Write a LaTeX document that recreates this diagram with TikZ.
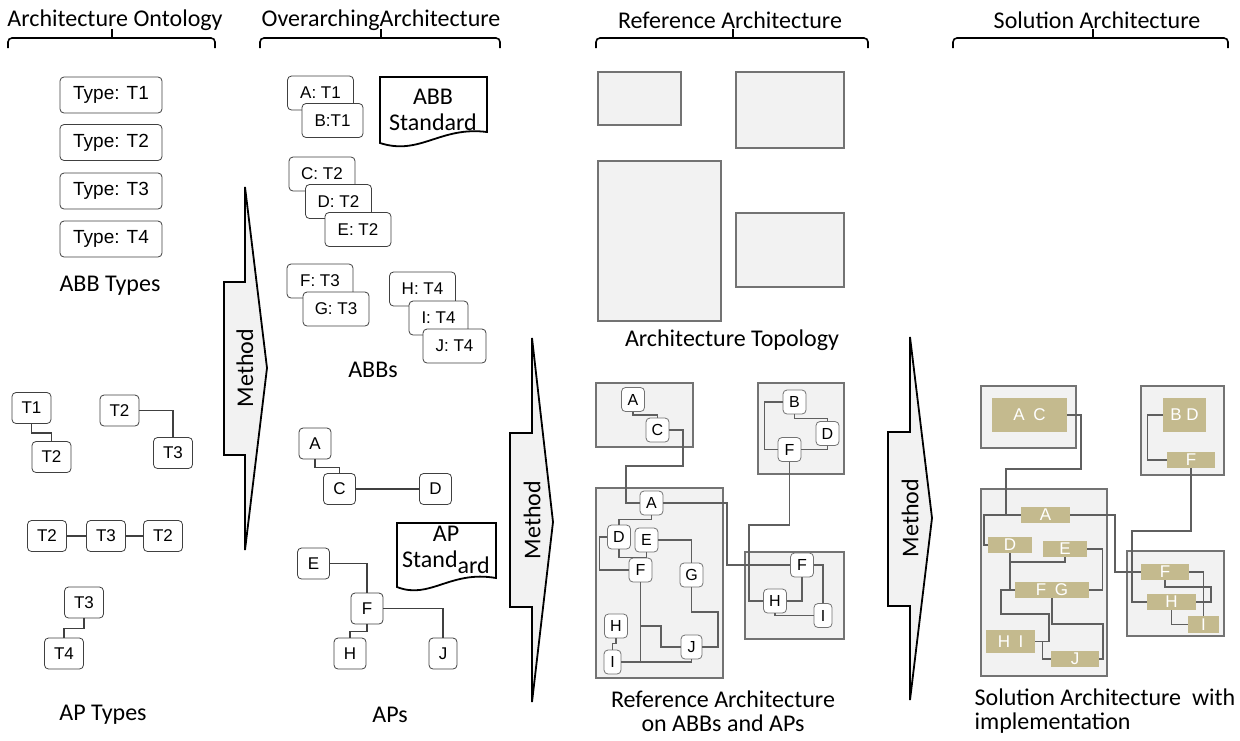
\documentclass[tikz,border=0pt]{standalone}
\usepackage{fontspec}
\setmainfont{Carlito}
\newfontfamily\arialfont{Liberation Sans}
\usepackage[dvipsnames]{xcolor}
\definecolor{tanbox}{RGB}{196,186,142}
\definecolor{areafill}{RGB}{242,242,242}
\definecolor{linegray}{RGB}{95,95,95}

\begin{document}
\begin{tikzpicture}[x=0.5pt,y=-0.5pt,
    label text/.style={font=\fontsize{12}{13}\selectfont,align=center},
    type node/.style={draw=black!75,rounded corners=2pt,fill=white,minimum width=51pt,minimum height=18pt,inner sep=0pt,font=\arialfont\fontsize{9.5}{11}\selectfont},
    abb node/.style={draw=black!75,rounded corners=2pt,fill=white,minimum width=33pt,minimum height=17pt,inner sep=0pt,font=\arialfont\fontsize{8.5}{10}\selectfont},
    tp node/.style={draw=black!75,rounded corners=2pt,fill=white,minimum width=19.5pt,minimum height=15.5pt,inner sep=0pt,font=\arialfont\fontsize{8.5}{10}\selectfont},
    ap node/.style={tp node,minimum width=16pt},
    ref node/.style={draw=black!55,rounded corners=2pt,fill=white,minimum width=11.5pt,minimum height=12pt,inner sep=0pt,font=\arialfont\fontsize{8}{9}\selectfont},
    impl node/.style={fill=tanbox,minimum height=8pt,inner sep=0pt,text=white,font=\arialfont\fontsize{8.5}{9}\selectfont},
    area box/.style={draw=black!55,fill=areafill,line width=0.6pt},
    wire/.style={draw=linegray,line width=0.6pt},
    dark wire/.style={draw=black!75,line width=0.6pt},
    doc line/.style={draw=black,line width=0.9pt},
    brace line/.style={line width=0.8pt,rounded corners=2pt},
    method arrow/.style={draw=black,fill=areafill,line width=0.9pt}]
            \useasboundingbox (0,0) rectangle (1240,740);

            \node[label text] (t1) at (115,20) {Architecture Ontology};
            \node[label text] (t2) at (381,20) {OverarchingArchitecture};
            \node[label text] (t3) at (730,20) {Reference Architecture};
            \node[label text] (t4) at (1097,20) {Solution Architecture};
            \foreach \l/\m/\r in {8/112/215,260/381/500,596/733/868,953/1093/1228}{
                \draw[brace line] (\l,48) |- (\r,38) -- (\r,48);
                \draw[brace line] (\m,38) -- (\m,29);
            }

            % ontology
            \foreach \i/\y in {1/95,2/142.5,3/191,4/239}
                \node[type node] (ty\i) at (111,\y) {Type: T\i};
            \node[label text] (abbtypes) at (110,286) {ABB Types};

            \node[tp node] (p1) at (31.5,408) {T1};
            \node[tp node] (p2) at (51.5,457) {T2};
            \node[tp node] (p3) at (119.5,410.5) {T2};
            \node[tp node] (p4) at (173,453) {T3};
            \node[tp node] (p5) at (47,536) {T2};
            \node[tp node] (p6) at (106,536) {T3};
            \node[tp node] (p7) at (163,536) {T2};
            \node[tp node] (p8) at (84,602.5) {T3};
            \node[tp node] (p9) at (64,653.5) {T4};
            \draw[dark wire] (p1.south) -- ++(0,9) -| (p2.north);
            \draw[dark wire] (p3.east) -| (p4.north);
            \draw[dark wire] (p5) -- (p6) -- (p7);
            \draw[dark wire] (p8.south) -- ++(0,10) -| (p9.north);
            \node[label text] (aptypes) at (103,715) {AP Types};

            \draw[method arrow] (245,187) -- (267,368) -- (245,550) -- (245,455) -- (224,455) -- (224,282) -- (245,282) -- cycle;
            \node[label text,rotate=90] (m1) at (245,368) {Method};

            % overarching
            \node[abb node] (a1) at (320.5,93) {A: T1};
            \node[abb node,minimum width=30.5pt] (b1) at (332.5,120.5) {B:T1};
            \node[abb node] (c1) at (322,174) {C: T2};
            \node[abb node] (d1) at (338.5,201.5) {D: T2};
            \node[abb node] (e1) at (358,229.5) {E: T2};
            \node[abb node] (f1) at (320,281) {F: T3};
            \node[abb node] (g1) at (336,309) {G: T3};
            \node[abb node] (h1) at (422.5,289) {H: T4};
            \node[abb node,minimum width=29.5pt] (i1) at (438.5,318) {I: T4};
            \node[abb node,minimum width=31.5pt] (j1) at (454.5,346) {J: T4};
            \draw[doc line] (380,143) -- (380,77) -- (487,77) -- (487,132) .. controls (440,126) and (420,156) .. cycle;
            \node[label text] (abbstd) at (433,110) {ABB\\Standard};
            \node[label text] (abbs) at (373,370) {ABBs};

            \node[ap node] (ea) at (315,443.5) {A};
            \node[ap node] (ec) at (339.5,489) {C};
            \node[ap node] (ed) at (435.5,489) {D};
            \node[ap node] (ee) at (313.5,563.5) {E};
            \node[ap node] (ef) at (367,608.5) {F};
            \node[ap node] (eh) at (350,653.5) {H};
            \node[ap node,minimum width=14pt] (ej) at (443,653.5) {J};
            \draw[dark wire] (ea.south) -- ++(0,8) -| (ec.north);
            \draw[dark wire] (ec) -- (ed);
            \draw[dark wire] (ee.east) -| (ef.north);
            \draw[dark wire] (ef.south) -- ++(0,7) -| (eh.north);
            \draw[dark wire] (ef.east) -| (ej.north);
            \draw[doc line] (397,587) -- (397,523) -- (496,523) -- (496,578) .. controls (450,570) and (430,600) .. cycle;
            \node[label text] (apstd) at (446,550) {AP\\Stand\raisebox{-0.5ex}{ard}};
            \node[label text] (aps) at (390,715) {APs};

            \draw[method arrow] (532,338) -- (553,522) -- (532,702) -- (532,607) -- (510,607) -- (510,433) -- (532,433) -- cycle;
            \node[label text,rotate=90] (m2) at (532,520) {Method};

            % reference architecture
            \draw[area box] (598,72) rectangle (681,125);
            \draw[area box] (736,72) rectangle (844,148);
            \draw[area box] (598,161) rectangle (721,321);
            \draw[area box] (736,213) rectangle (844,287);
            \node[label text] (topo) at (732,340) {Architecture Topology};

            \draw[area box] (596,383) rectangle (693,447);
            \draw[area box] (758,383) rectangle (844,474);
            \draw[area box] (596,488) rectangle (723,678);
            \draw[area box] (745,552) rectangle (844,639);
            \node[ref node] (ra1) at (633,399.5) {A};
            \node[ref node] (rc1) at (657.5,430) {C};
            \node[ref node] (rb1) at (794.5,402) {B};
            \node[ref node] (rd1) at (827.5,433.5) {D};
            \node[ref node] (rf1) at (789.5,449.5) {F};
            \node[ref node] (ra2) at (651.5,503) {A};
            \node[ref node] (rd2) at (619,537) {D};
            \node[ref node] (re2) at (646.5,540) {E};
            \node[ref node] (rf2) at (640.5,570) {F};
            \node[ref node] (rg2) at (691.5,575) {G};
            \node[ref node] (rh2) at (616,626) {H};
            \node[ref node,minimum width=8.5pt] (ri2) at (612.5,662) {I};
            \node[ref node,minimum width=10.5pt] (rj2) at (691.5,647) {J};
            \node[ref node] (rf3) at (802,565) {F};
            \node[ref node] (rh3) at (775,601) {H};
            \node[ref node,minimum width=9pt] (ri3) at (823,615.5) {I};
            \coordinate (rjn) at (640.5,626);
            \draw[wire] (ra1.south) -- ++(0,3) -| (rc1.north);
            \draw[wire] (rb1.south) -- ++(0,4) -| (rd1.north);
            \draw[wire] (rb1.west) -- ++(-18,0) |- (rf1.west);
            \draw[wire] (rf1.east) -| (rd1.south);
            \draw[wire] (rc1.east) -| (683,466) -| (626,503) -- (ra2.west);
            \draw[wire] (ra2.east) -| (727,565) -- (rf3.west);
            \draw[wire] (rf1.south) |- (749,525) |- (rh3.west);
            \draw[wire] (ra2.south) -- ++(0,4) -| (rd2.north);
            \draw[wire] (rd2.south) -- ++(0,8) -| (re2.south);
            \draw[wire] (rd2.west) -- ++(-8,0) |- (rf2.west);
            \draw[wire] (re2.east) -| (rg2.north);
            \draw[wire] (rg2.south) |- (718,612) |- (rj2.east);
            \draw[wire] (rf2.south) -- (640.5,662);
            \draw[wire] (ri2.east) -| (rj2.south);
            \draw[wire] (rjn) -| (661,647) -- (rj2.west);
            \draw[wire] (rh2.south) -- ++(0,5) -| (ri2.north);
            \draw[wire] (rf3.east) -| (ri3.north);
            \draw[wire] (rf3.south) |- (rh3.east);
            \draw[wire] (rh3.south) |- (ri3.west);
            \node[label text,font=\fontsize{12}{12}\selectfont] (reflbl) at (723,711) {Reference Architecture\\on ABBs and APs};

            \draw[method arrow] (910,337) -- (932,518) -- (910,700) -- (910,606) -- (888,606) -- (888,432) -- (910,432) -- cycle;
            \node[label text,rotate=90] (m3) at (910,518) {Method};

            % solution architecture
            \draw[area box] (981,386) rectangle (1076,448);
            \draw[area box] (1141,386) rectangle (1224,475);
            \draw[area box] (981,489) rectangle (1107,676);
            \draw[area box] (1127,551) rectangle (1224,636);
            \node[impl node,minimum width=37.5pt,minimum height=17pt] (sac) at (1029.5,415) {A\enspace C};
            \node[impl node,minimum width=21.5pt,minimum height=17pt] (sbd) at (1184.5,415) {B D};
            \node[impl node,minimum width=24pt] (sf1) at (1191,460) {F};
            \node[impl node,minimum width=24.5pt] (sa2) at (1045.5,515) {A};
            \node[impl node,minimum width=22pt] (sd2) at (1010,545) {D};
            \node[impl node,minimum width=22pt] (se2) at (1065,549) {E};
            \node[impl node,minimum width=37pt] (sfg) at (1052,590) {F\enspace G};
            \node[impl node,minimum width=24.5pt,minimum height=11.5pt] (shi) at (1010.5,641.5) {H\enspace I};
            \node[impl node,minimum width=24pt] (sj2) at (1075,659) {J};
            \node[impl node,minimum width=24pt] (sf3) at (1165,572) {F};
            \node[impl node,minimum width=24.5pt] (sh3) at (1171.5,602) {H};
            \node[impl node,minimum width=15.5pt,minimum height=8.5pt] (si3) at (1203.5,624.5) {I};
            \draw[wire] (sac.east) -| (1081,469) -| (1006,515);
            \draw[wire] (sa2.west) -- (984,515) |- (sd2.west);
            \draw[wire] (sbd.west) -- ++(-15,0) |- (sf1.west);
            \draw[wire] (sf1.south) |- (1132,531) |- (sh3.west);
            \draw[wire] (sa2.east) -| (1115,572) -- (sf3.west);
            \draw[wire] (sd2.south) |- (sfg.west);
            \draw[wire] (se2.south) |- (1010,562);
            \draw[wire] (se2.east) -- ++(15,0) |- (sfg.east);
            \draw[wire] (sfg.west) -- (1001,590) |- (1049,614) |- (shi.east);
            \draw[wire] (sfg.south) |- (1103,624) |- (sj2.east);
            \draw[wire] (shi.east) -- ++(7,0) |- (sj2.west);
            \draw[wire] (sf3.east) -| (si3.north);
            \draw[wire] (sf3.south) |- (1211,587) |- (sh3.east);
            \draw[wire] (sh3.south) |- (si3.west);
            \node[label text,align=left,font=\fontsize{12}{12}\selectfont] (sollbl) at (1105,711) {Solution Architecture\ \ with\\implementation};
        \end{tikzpicture}
\end{document}
